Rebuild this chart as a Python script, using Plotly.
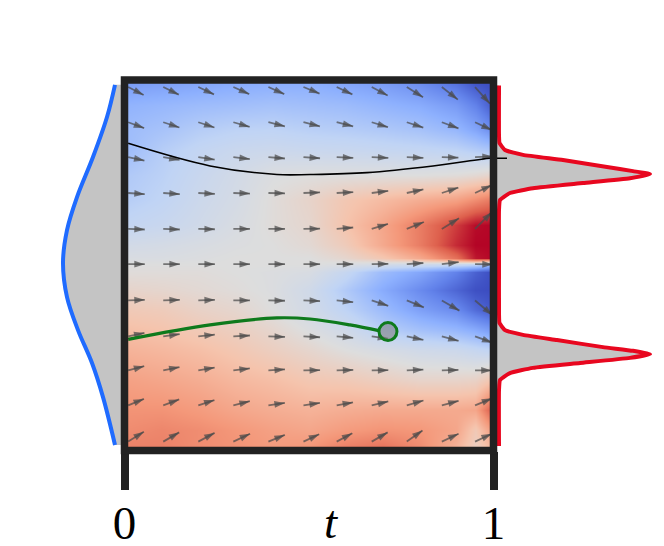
import numpy as np
import plotly.graph_objects as go

W, H = 656, 538   # the page adds an 8 px body margin
OFFSET = 8
FRAME = "#222222"
COOLWARM = [[0, "#3b4cc0"], [.125, "#6282ea"], [.25, "#8db0fe"], [.375, "#c0d4f5"], [.5, "#dddddd"],
            [.625, "#f5c4ad"], [.75, "#f4987a"], [.875, "#de604d"], [1, "#b40426"]]

# field background
t_cells = [0, .1, .2, .3, .4, .5, .6, .7, .8, .9, .95, 1]
y_cells = [.99, .932, .865, .811, .743, .676, .608, .554, .519, .503, .481, .432, .378, .324, .27, .189, .108, .054, .011]
z_cells = [
    [-.6, -.58, -.55, -.52, -.5, -.5, -.55, -.6, -.68, -.82, -.95, -1],
    [-.48, -.45, -.42, -.4, -.38, -.4, -.42, -.47, -.52, -.62, -.75, -.95],
    [-.42, -.37, -.3, -.26, -.25, -.28, -.3, -.33, -.37, -.45, -.55, -.7],
    [-.42, -.3, -.22, -.17, -.15, -.17, -.18, -.2, -.22, -.25, -.3, -.35],
    [-.33, -.27, -.18, -.1, -.02, 0, 0, 0, 0, .02, .05, .1],
    [-.3, -.24, -.15, -.08, .02, .1, .22, .3, .38, .45, .55, .65],
    [-.22, -.18, -.12, -.05, .02, .08, .25, .42, .62, .85, .98, 1],
    [-.1, -.08, -.05, -.02, 0, .05, .18, .4, .62, .9, 1, 1],
    [-.04, -.04, -.02, 0, 0, 0, .08, .22, .4, .68, .95, 1],
    [0, 0, 0, 0, 0, 0, -.03, -.08, -.12, -.15, -.2, -.4],
    [.02, .02, .02, 0, -.02, -.05, -.2, -.42, -.55, -.75, -.9, -1],
    [.1, .08, .05, .02, -.02, -.12, -.32, -.52, -.7, -.88, -.98, -1],
    [.2, .18, .12, .08, 0, -.1, -.25, -.42, -.58, -.7, -.85, -.95],
    [.28, .25, .2, .15, .08, -.02, -.12, -.28, -.38, -.45, -.52, -.62],
    [.35, .32, .28, .22, .15, .08, 0, -.06, -.12, -.15, -.2, -.25],
    [.45, .42, .38, .32, .28, .22, .2, .15, .1, .1, .12, .25],
    [.52, .52, .48, .42, .38, .35, .38, .4, .4, .4, .42, .8],
    [.55, .58, .55, .5, .45, .42, .48, .52, .5, .42, .2, .5],
    [.6, .6, .55, .52, .48, .5, .6, .65, .55, .35, .15, .35],
]

# arrow tails and directions
t_arrows = [.01, .105, .2, .295, .39, .485, .575, .67, .765, .86, .95]
y_arrows = [.981, .886, .792, .695, .598, .503, .405, .308, .216, .122, .024]
angles = [
    [-27, -26, -25, -24, -24, -22, -25, -28, -32, -38, -48],
    [-20, -18, -18, -16, -14, -14, -14, -17, -18, -20, -25],
    [-12, -10, -9, -7, -5, -4, -3, -3, -3, -2, 2],
    [-4, -4, -3, -2, -1, 2, 3, 7, 12, 18, 25],
    [-2, -2, -1, 0, 0, 1, 5, 17, 22, 32, 45],
    [0, 0, 0, 0, 0, 0, 0, 1, 4, 7, -1],
    [2, 2, 2, 0, -1, -2, -6, -18, -22, -30, -40],
    [12, 8, 6, 3, -2, -3, -5, -8, -12, -15, -20],
    [15, 12, 10, 7, 4, 1, 2, 1, 3, 2, 0],
    [22, 20, 18, 14, 8, 8, 10, 13, 16, 15, 22],
    [32, 30, 28, 25, 22, 25, 28, 30, 35, 25, 25],
]
speeds = [
    [.047, .047, .047, .047, .047, .047, .047, .049, .052, .055, .06],
    [.046, .046, .046, .046, .046, .046, .046, .046, .047, .048, .05],
    [.045, .045, .045, .045, .045, .045, .045, .045, .045, .045, .048],
    [.045, .045, .045, .045, .045, .045, .045, .045, .046, .047, .05],
    [.045, .045, .045, .045, .045, .045, .045, .046, .05, .055, .065],
    [.045, .045, .045, .045, .045, .045, .045, .045, .045, .046, .048],
    [.045, .045, .045, .045, .045, .045, .045, .047, .05, .055, .062],
    [.045, .045, .045, .045, .045, .045, .045, .045, .046, .047, .05],
    [.045, .045, .045, .045, .045, .045, .045, .045, .045, .045, .045],
    [.046, .046, .046, .046, .045, .045, .045, .046, .047, .047, .05],
    [.05, .05, .05, .05, .048, .047, .048, .05, .052, .05, .05],
]

# trajectories
black_t = [.01, .232, .413, .503, .657, .836, .99, 1]
black_y = [.829, .768, .745, .745, .75, .768, .789, .789]
black_stub_p = [0, .135]
black_stub_y = [.789, .789]
green_t = [.01, .232, .413, .503, .611, .692]
green_y = [.30, .339, .358, .355, .339, .323]
green_end_t = [.714]
green_end_y = [.321]

# left density
left_y = [.987, .90, .792, .684, .595, .506, .414, .325, .236, .144, .015]
left_p = [.095, .175, .315, .475, .575, .615, .575, .465, .325, .215, .095]

# right density
right_y = [.985, .85, .83, .811, .798, .784, .765, .754, .746, .735, .722, .708, .695, .676, .649, .50, .37, .344, .325, .312, .298, .279, .269, .26, .25, .236, .223, .209, .19, .163, .012]
right_p = [.055, .055, .06, .115, .295, .695, 1.135, 1.395, 1.565, 1.365, .895, .395, .165, .065, .055, .055, .055, .06, .115, .295, .635, 1.095, 1.395, 1.565, 1.365, .865, .395, .165, .065, .055, .055]


def xdom(x0, x1):
    return [(x0 - OFFSET) / W, (x1 - OFFSET) / W]


def yfrac(p):
    return 1 - (p - OFFSET) / H


fig = go.Figure()
fig.add_trace(go.Heatmap(x=t_cells, y=y_cells, z=z_cells, zmin=-1, zmax=1, colorscale=COOLWARM,
                         zsmooth="best", showscale=False))

ang = np.radians(np.array(angles, dtype=float))
spd = np.array(speeds)
du, dv = spd * np.cos(ang), spd * np.sin(ang)
sx, sy, hx, hy, ha = [], [], [], [], []
for i, yv in enumerate(y_arrows):
    for j, tv in enumerate(t_arrows):
        sx += [tv, tv + du[i, j], None]
        sy += [yv, yv + dv[i, j], None]
        hx.append(tv + du[i, j])
        hy.append(yv + dv[i, j])
        ha.append(90 - angles[i][j])
ARROW = "rgba(75,75,75,0.72)"
fig.add_trace(go.Scatter(x=sx, y=sy, mode="lines", line=dict(color=ARROW, width=1.8)))
fig.add_trace(go.Scatter(x=hx, y=hy, mode="markers",
                         marker=dict(symbol="arrow", size=11, angle=ha, color=ARROW, line=dict(width=0))))

fig.add_trace(go.Scatter(x=black_t, y=black_y, mode="lines", line=dict(color="#000000", width=1.6, shape="spline")))
fig.add_trace(go.Scatter(x=green_t, y=green_y, mode="lines", line=dict(color="#0e7a1c", width=3.2, shape="spline")))
fig.add_trace(go.Scatter(x=green_end_t, y=green_end_y, mode="markers",
                         marker=dict(size=18, color="rgba(128,128,128,0.6)", line=dict(color="#0e7a1c", width=3))))

fig.add_trace(go.Scatter(x=left_p, y=left_y, xaxis="x2", yaxis="y", mode="lines", fill="tozerox",
                         fillcolor="#c4c4c4", line=dict(color="#1f6bff", width=4, shape="spline", smoothing=1)))
fig.add_trace(go.Scatter(x=right_p, y=right_y, xaxis="x3", yaxis="y", mode="lines", fill="tozerox",
                         fillcolor="#c4c4c4", line=dict(color="#e8071f", width=4, shape="spline", smoothing=.4)))
fig.add_trace(go.Scatter(x=black_stub_p, y=black_stub_y, xaxis="x3", yaxis="y", mode="lines",
                         line=dict(color="#000000", width=1.4)))

fig.update_layout(
    template="none",
    width=W, height=H, autosize=False, showlegend=False, margin=dict(l=0, r=0, t=0, b=0, pad=0),
    paper_bgcolor="white", plot_bgcolor="white",
    xaxis=dict(domain=xdom(124.5, 493.5), range=[0, 1], anchor="y", tickmode="array", tickvals=[0, 1],
               ticktext=["0", "1"], ticks="outside", ticklen=38, tickwidth=7.5, tickcolor=FRAME,
               showgrid=False, zeroline=False, showline=False, automargin=False, ticklabelstandoff=-7,
               tickfont=dict(family="Liberation Serif", size=47, color="#000000")),
    yaxis=dict(domain=[yfrac(450.5), yfrac(80)], range=[0, 1], visible=False, automargin=False),
    xaxis2=dict(domain=xdom(24.5, 124.5), range=[1, 0], anchor="y", visible=False),
    xaxis3=dict(domain=xdom(493.5, 655.5), range=[0, 1.62], anchor="y", visible=False),
    shapes=[dict(type="rect", xref="paper", yref="paper", x0=xdom(124.5, 493.5)[0], x1=xdom(124.5, 493.5)[1],
                 y0=yfrac(450.5), y1=yfrac(80), layer="above",
                 line=dict(color=FRAME, width=7.5), fillcolor="rgba(0,0,0,0)")],
    annotations=[dict(text="<i>t</i>", xref="x", yref="paper", x=.56, y=yfrac(522), yanchor="middle",
                      showarrow=False, font=dict(family="Liberation Serif", size=47, color="#000000"))],
)
fig.write_html("out.html")
